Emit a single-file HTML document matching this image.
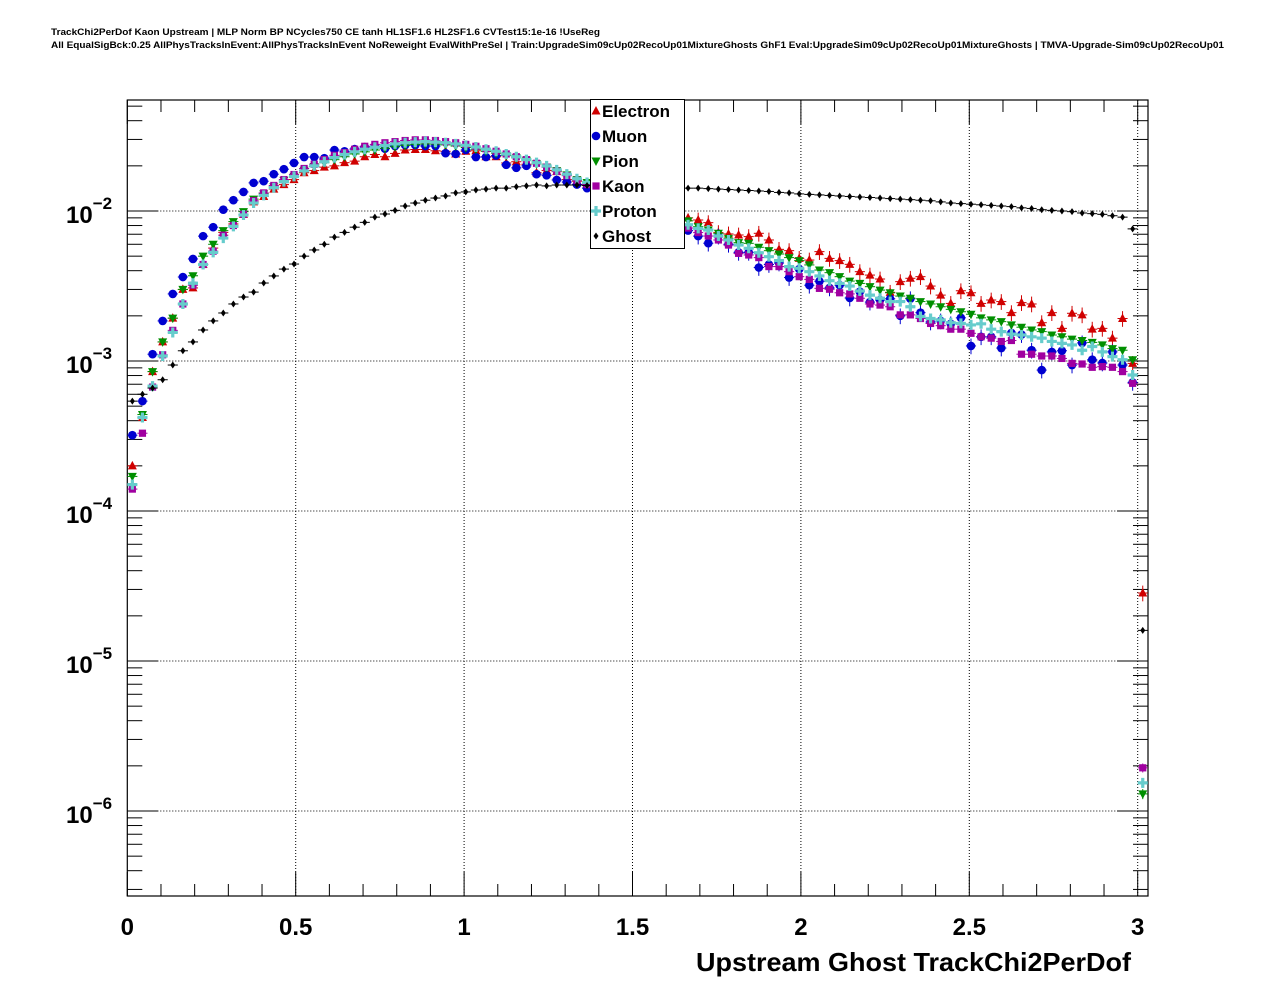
<!DOCTYPE html>
<html><head><meta charset="utf-8">
<style>
body{margin:0;background:#fff;}
svg{display:block;font-family:"Liberation Sans",Arial,sans-serif;}
</style></head>
<body>
<svg id="chart" width="1276" height="996" viewBox="0 0 1276 996" xmlns="http://www.w3.org/2000/svg">
<rect x="0" y="0" width="1276" height="996" fill="#fff"/>
<text x="51" y="35" font-size="9" font-weight="bold" textLength="549" lengthAdjust="spacingAndGlyphs">TrackChi2PerDof Kaon Upstream | MLP Norm BP NCycles750 CE tanh HL1SF1.6 HL2SF1.6 CVTest15:1e-16 !UseReg</text>
<text x="51" y="48" font-size="9" font-weight="bold" textLength="1173" lengthAdjust="spacingAndGlyphs">All EqualSigBck:0.25 AllPhysTracksInEvent:AllPhysTracksInEvent NoReweight EvalWithPreSel | Train:UpgradeSim09cUp02RecoUp01MixtureGhosts GhF1 Eval:UpgradeSim09cUp02RecoUp01MixtureGhosts | TMVA-Upgrade-Sim09cUp02RecoUp01</text>
<g id="grid"></g>
<g id="axes"></g>
<g id="marks"></g>
<g id="legend"></g>
<text x="1131" y="971" font-size="26" font-weight="bold" text-anchor="end" textLength="435" lengthAdjust="spacingAndGlyphs">Upstream Ghost TrackChi2PerDof</text>
</svg>
<script>
const binCenters = [];
for (let i = 0; i <= 100; i++) binCenters.push(0.015 + 0.03 * i);
const xTicks = [0, 0.5, 1, 1.5, 2, 2.5, 3];
const xTickLabels = ["0", "0.5", "1", "1.5", "2", "2.5", "3"];
const yDecades = [-6, -5, -4, -3, -2];

const electron = [2.0e-4,4.2e-4,8.5e-4,1.34e-3,1.93e-3,3.0e-3,3.07e-3,4.4e-3,5.66e-3,7.2e-3,8.2e-3,9.5e-3,1.15e-2,1.25e-2,1.4e-2,1.5e-2,1.62e-2,1.8e-2,1.86e-2,1.96e-2,2.0e-2,2.1e-2,2.15e-2,2.3e-2,2.38e-2,2.3e-2,2.42e-2,2.55e-2,2.57e-2,2.57e-2,2.52e-2,2.5e-2,2.4e-2,2.5e-2,2.52e-2,2.3e-2,2.3e-2,2.09e-2,2.13e-2,2.05e-2,1.8e-2,1.86e-2,1.83e-2,1.62e-2,1.58e-2,1.52e-2,1.45e-2,1.38e-2,1.3e-2,1.22e-2,1.15e-2,1.08e-2,1.03e-2,9.8e-3,9.3e-3,9.0e-3,8.71e-3,8.36e-3,7.18e-3,7.03e-3,6.92e-3,6.75e-3,7.10e-3,6.41e-3,5.55e-3,5.44e-3,4.83e-3,4.71e-3,5.36e-3,4.83e-3,4.67e-3,4.41e-3,3.94e-3,3.74e-3,3.52e-3,2.87e-3,3.38e-3,3.56e-3,3.65e-3,3.16e-3,2.75e-3,2.42e-3,2.94e-3,2.85e-3,2.42e-3,2.55e-3,2.49e-3,2.10e-3,2.45e-3,2.40e-3,1.80e-3,2.10e-3,1.65e-3,2.08e-3,2.03e-3,1.63e-3,1.65e-3,1.42e-3,1.92e-3,9.64e-4,2.84e-5];
const muon = [3.2e-4,5.4e-4,1.11e-3,1.85e-3,2.8e-3,3.63e-3,4.79e-3,6.8e-3,7.8e-3,1.02e-2,1.18e-2,1.34e-2,1.54e-2,1.58e-2,1.76e-2,1.9e-2,2.09e-2,2.29e-2,2.29e-2,2.25e-2,2.55e-2,2.5e-2,2.59e-2,2.67e-2,2.71e-2,2.6e-2,2.71e-2,2.75e-2,2.75e-2,2.71e-2,2.71e-2,2.43e-2,2.4e-2,2.55e-2,2.29e-2,2.29e-2,2.34e-2,2.03e-2,1.94e-2,2.0e-2,1.76e-2,1.73e-2,1.61e-2,1.56e-2,1.5e-2,1.42e-2,1.35e-2,1.28e-2,1.2e-2,1.12e-2,1.05e-2,9.8e-3,9.2e-3,8.6e-3,8.0e-3,7.4e-3,6.8e-3,6.1e-3,6.8e-3,6.0e-3,5.3e-3,5.3e-3,4.2e-3,4.4e-3,4.5e-3,3.6e-3,4.1e-3,3.2e-3,3.4e-3,3.07e-3,3.2e-3,2.63e-3,2.9e-3,2.47e-3,2.55e-3,2.6e-3,2.0e-3,2.6e-3,2.1e-3,1.82e-3,1.85e-3,1.77e-3,1.94e-3,1.26e-3,1.45e-3,1.45e-3,1.22e-3,1.54e-3,1.5e-3,1.18e-3,8.7e-4,1.15e-3,1.17e-3,9.4e-4,1.32e-3,1.02e-3,9.7e-4,1.15e-3,9.4e-4,7.2e-4,null];
const pion = [1.7e-4,4.4e-4,8.5e-4,1.34e-3,1.93e-3,3.0e-3,3.7e-3,5.0e-3,6.0e-3,7.4e-3,8.5e-3,9.9e-3,1.2e-2,1.3e-2,1.45e-2,1.6e-2,1.7e-2,1.87e-2,1.98e-2,2.1e-2,2.2e-2,2.3e-2,2.4e-2,2.48e-2,2.55e-2,2.62e-2,2.68e-2,2.74e-2,2.78e-2,2.8e-2,2.79e-2,2.76e-2,2.71e-2,2.65e-2,2.58e-2,2.5e-2,2.43e-2,2.34e-2,2.26e-2,2.18e-2,2.06e-2,1.96e-2,1.86e-2,1.74e-2,1.62e-2,1.55e-2,1.48e-2,1.40e-2,1.33e-2,1.26e-2,1.19e-2,1.12e-2,1.05e-2,9.8e-3,9.2e-3,8.6e-3,7.87e-3,7.47e-3,7.1e-3,6.57e-3,6.15e-3,6.09e-3,5.73e-3,5.44e-3,5.17e-3,4.89e-3,4.67e-3,4.37e-3,4.04e-3,3.88e-3,3.65e-3,3.41e-3,3.29e-3,3.13e-3,2.97e-3,2.85e-3,2.71e-3,2.62e-3,2.49e-3,2.4e-3,2.3e-3,2.21e-3,2.13e-3,2.05e-3,1.94e-3,1.88e-3,1.83e-3,1.74e-3,1.68e-3,1.61e-3,1.57e-3,1.49e-3,1.45e-3,1.40e-3,1.37e-3,1.33e-3,1.28e-3,1.21e-3,1.18e-3,1.02e-3,1.3e-6];
const kaon = [1.4e-4,3.3e-4,6.7e-4,1.1e-3,1.6e-3,2.4e-3,3.2e-3,4.4e-3,5.4e-3,6.9e-3,8.0e-3,9.5e-3,1.17e-2,1.32e-2,1.48e-2,1.62e-2,1.75e-2,1.92e-2,2.05e-2,2.2e-2,2.35e-2,2.45e-2,2.58e-2,2.7e-2,2.78e-2,2.85e-2,2.9e-2,2.95e-2,2.98e-2,2.98e-2,2.95e-2,2.9e-2,2.85e-2,2.78e-2,2.7e-2,2.6e-2,2.5e-2,2.4e-2,2.3e-2,2.2e-2,2.08e-2,1.96e-2,1.84e-2,1.72e-2,1.6e-2,1.5e-2,1.42e-2,1.34e-2,1.26e-2,1.19e-2,1.12e-2,1.05e-2,9.8e-3,9.1e-3,8.4e-3,7.7e-3,7.18e-3,6.81e-3,6.41e-3,5.93e-3,5.22e-3,5.09e-3,4.89e-3,4.26e-3,4.26e-3,3.94e-3,3.65e-3,3.5e-3,3.05e-3,3.01e-3,2.85e-3,2.8e-3,2.62e-3,2.4e-3,2.36e-3,2.3e-3,2.03e-3,2.03e-3,1.92e-3,1.78e-3,1.72e-3,1.63e-3,1.63e-3,1.53e-3,1.45e-3,1.42e-3,1.35e-3,1.37e-3,1.11e-3,1.11e-3,1.08e-3,1.08e-3,1.04e-3,9.64e-4,9.55e-4,9.08e-4,9.17e-4,9.08e-4,8.5e-4,7.1e-4,1.94e-6];
const proton = [1.5e-4,4.2e-4,6.8e-4,1.08e-3,1.55e-3,2.4e-3,3.3e-3,4.4e-3,5.3e-3,6.6e-3,7.9e-3,9.4e-3,1.13e-2,1.27e-2,1.43e-2,1.57e-2,1.7e-2,1.85e-2,2.0e-2,2.13e-2,2.27e-2,2.38e-2,2.48e-2,2.58e-2,2.66e-2,2.73e-2,2.8e-2,2.85e-2,2.88e-2,2.9e-2,2.88e-2,2.85e-2,2.8e-2,2.74e-2,2.67e-2,2.58e-2,2.5e-2,2.4e-2,2.3e-2,2.2e-2,2.1e-2,2.0e-2,1.88e-2,1.76e-2,1.64e-2,1.55e-2,1.46e-2,1.38e-2,1.3e-2,1.22e-2,1.15e-2,1.08e-2,1.01e-2,9.4e-3,8.7e-3,8.1e-3,7.66e-3,7.47e-3,6.81e-3,6.41e-3,5.93e-3,5.64e-3,5.27e-3,4.96e-3,4.67e-3,4.26e-3,4.15e-3,3.94e-3,3.69e-3,3.43e-3,3.29e-3,3.16e-3,2.93e-3,2.75e-3,2.62e-3,2.49e-3,2.49e-3,2.3e-3,1.98e-3,1.92e-3,1.88e-3,1.8e-3,1.78e-3,1.74e-3,1.77e-3,1.63e-3,1.57e-3,1.51e-3,1.49e-3,1.45e-3,1.42e-3,1.35e-3,1.31e-3,1.28e-3,1.18e-3,1.25e-3,1.15e-3,1.07e-3,1.02e-3,8.07e-4,1.54e-6];
const ghost = [5.4e-4,6.0e-4,6.6e-4,7.5e-4,9.4e-4,1.17e-3,1.34e-3,1.61e-3,1.85e-3,2.09e-3,2.4e-3,2.67e-3,2.88e-3,3.31e-3,3.69e-3,4.1e-3,4.43e-3,5.0e-3,5.5e-3,6.0e-3,6.7e-3,7.2e-3,7.8e-3,8.4e-3,9.1e-3,9.55e-3,1.01e-2,1.08e-2,1.13e-2,1.18e-2,1.22e-2,1.26e-2,1.32e-2,1.34e-2,1.38e-2,1.40e-2,1.42e-2,1.42e-2,1.45e-2,1.47e-2,1.49e-2,1.47e-2,1.49e-2,1.49e-2,1.49e-2,1.48e-2,1.47e-2,1.47e-2,1.46e-2,1.46e-2,1.45e-2,1.45e-2,1.44e-2,1.44e-2,1.43e-2,1.42e-2,1.42e-2,1.41e-2,1.40e-2,1.39e-2,1.38e-2,1.37e-2,1.36e-2,1.35e-2,1.33e-2,1.32e-2,1.30e-2,1.29e-2,1.28e-2,1.27e-2,1.26e-2,1.25e-2,1.24e-2,1.23e-2,1.22e-2,1.21e-2,1.20e-2,1.19e-2,1.18e-2,1.17e-2,1.15e-2,1.13e-2,1.12e-2,1.11e-2,1.10e-2,1.09e-2,1.08e-2,1.07e-2,1.05e-2,1.04e-2,1.02e-2,1.01e-2,1.00e-2,9.9e-3,9.7e-3,9.6e-3,9.5e-3,9.3e-3,9.1e-3,7.6e-3,1.6e-5];

const NS = "http://www.w3.org/2000/svg";
const X0 = 127.3, X1 = 1148, Y0 = 100, Y1 = 896;
const XMIN = 0, XMAX = (X1 - X0) / 336.8;
const LOGMAX = -2 + (211 - Y0) / 150, LOGMIN = -2 - (Y1 - 211) / 150;
function xs(v){ return X0 + (v - XMIN) / (XMAX - XMIN) * (X1 - X0); }
function ys(v){ return Y1 - (Math.log10(v) - LOGMIN) / (LOGMAX - LOGMIN) * (Y1 - Y0); }
function el(tag, attrs, parent){ const e = document.createElementNS(NS, tag); for (const k in attrs) e.setAttribute(k, attrs[k]); parent.appendChild(e); return e; }

const grid = document.getElementById('grid');
const axes = document.getElementById('axes');
const marks = document.getElementById('marks');
const legend = document.getElementById('legend');

xTicks.forEach(t => {
  if (t === 0) return;
  const l = el('line', {x1: xs(t), x2: xs(t), y1: Y0, y2: Y1, stroke: '#000', 'stroke-width': 1, 'stroke-dasharray': '1,2'}, grid);
  
  
});
yDecades.forEach(d => {
  const y = ys(Math.pow(10, d));
  const l = el('line', {x1: X0, x2: X1, y1: y, y2: y, stroke: '#000', 'stroke-width': 1, 'stroke-dasharray': '1,2'}, grid);
  
  
});

const frame = el('rect', {x: X0, y: Y0, width: X1 - X0, height: Y1 - Y0, fill: 'none', stroke: '#000', 'stroke-width': 1.2}, axes);



for (let k = 0; k <= 30; k++) {
  const v = k * 0.1, x = xs(v), major = (k % 5 === 0), len = major ? 24 : 12;
  el('line', {x1: x, x2: x, y1: Y1, y2: Y1 - len, stroke: '#000', 'stroke-width': 1}, axes);
  el('line', {x1: x, x2: x, y1: Y0, y2: Y0 + len, stroke: '#000', 'stroke-width': 1}, axes);
}
xTicks.forEach((t, i) => {
  const tx = el('text', {x: xs(t), y: 935, 'font-size': 24, 'font-weight': 'bold', 'text-anchor': 'middle'}, axes);
  tx.textContent = xTickLabels[i];
  
  
});
for (let d = -7; d <= -1; d++) {
  for (let m = 1; m <= 9; m++) {
    const v = m * Math.pow(10, d), lg = Math.log10(v);
    if (lg < LOGMIN || lg > LOGMAX) continue;
    const y = ys(v), len = m === 1 ? 31 : 15;
    el('line', {x1: X0, x2: X0 + len, y1: y, y2: y, stroke: '#000', 'stroke-width': 1}, axes);
    el('line', {x1: X1, x2: X1 - len, y1: y, y2: y, stroke: '#000', 'stroke-width': 1}, axes);
  }
}
yDecades.forEach(d => {
  const y = ys(Math.pow(10, d));
  const t = el('text', {x: 66, y: y + 12, 'font-size': 24, 'font-weight': 'bold'}, axes);
  
  
  t.textContent = '10';
  const s = el('tspan', {dy: -14, 'font-size': 17}, t);
  s.textContent = '\u2212' + (-d);
});

function marker(type, x, y, color, g){
  switch(type){
    case 'tri-up': return el('polygon', {points: `${x},${y-5} ${x-4.5},${y+3.5} ${x+4.5},${y+3.5}`, fill: color}, g);
    case 'tri-down': return el('polygon', {points: `${x},${y+5} ${x-4.5},${y-3.5} ${x+4.5},${y-3.5}`, fill: color}, g);
    case 'circle': return el('circle', {cx: x, cy: y, r: 4.3, fill: color}, g);
    case 'square': return el('rect', {x: x - 3.6, y: y - 3.6, width: 7.2, height: 7.2, fill: color}, g);
    case 'cross': return el('path', {d: `M${x-1.6},${y-5}h3.2v3.4h3.4v3.2h-3.4v3.4h-3.2v-3.4h-3.4v-3.2h3.4z`, fill: color}, g);
    case 'diamond': return el('polygon', {points: `${x},${y-3.5} ${x+2.5},${y} ${x},${y+3.5} ${x-2.5},${y}`, fill: color}, g);
  }
}
const series = [
  {name: 'Electron', data: electron, color: '#d00000', type: 'tri-up'},
  {name: 'Muon', data: muon, color: '#0000d0', type: 'circle'},
  {name: 'Pion', data: pion, color: '#008f00', type: 'tri-down'},
  {name: 'Kaon', data: kaon, color: '#a000a0', type: 'square'},
  {name: 'Proton', data: proton, color: '#66cccc', type: 'cross'},
  {name: 'Ghost', data: ghost, color: '#000000', type: 'diamond'}
];
const halfW = (xs(0.03) - xs(0)) / 2;
series.forEach(s => {
  const g = el('g', {}, marks);
  
  
  s.data.forEach((v, i) => {
    if (v === null || v <= 0) return;
    const x = xs(binCenters[i]), y = ys(v);
    if (x > X1) return;
    let rel = s.name === 'Ghost' ? 0.02 : Math.min(0.35, 0.03 + 0.00006 / Math.sqrt(v) * 0.9);
    if ((s.name === 'Muon' || s.name === 'Electron') && i > 55) rel = Math.max(rel, 0.12);
    const yl = ys(v * (1 - rel)), yh = ys(v * (1 + rel));
    el('line', {x1: x - halfW, x2: x + halfW, y1: y, y2: y, stroke: s.color, 'stroke-width': 1}, g);
    el('line', {x1: x, x2: x, y1: yh, y2: yl, stroke: s.color, 'stroke-width': 1}, g);
    const m = marker(s.type, x, y, s.color, g);
    
    
  });
});

const lb = el('rect', {x: 590.5, y: 99.5, width: 94, height: 149, fill: '#fff', stroke: '#000', 'stroke-width': 1}, legend);


series.forEach((s, i) => {
  const y = 111 + i * 25;
  const g = el('g', {}, legend);
  
  
  marker(s.type, 596, y, s.color, g);
  const t = el('text', {x: 602, y: y + 6, 'font-size': 17, 'font-weight': 'bold'}, g);
  t.textContent = s.name;
});
</script>
</body></html>
